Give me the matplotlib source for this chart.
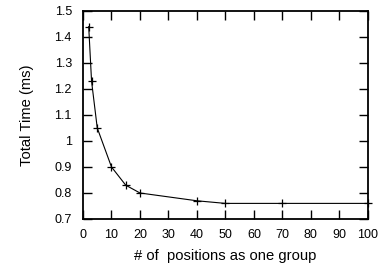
import matplotlib
matplotlib.use("Agg")
import matplotlib.pyplot as plt
from matplotlib.ticker import FuncFormatter

# group sizes and measured total time
group_size = [2, 3, 5, 10, 15, 20, 40, 50, 70, 100]
total_time = [1.44, 1.23, 1.05, 0.90, 0.83, 0.80, 0.77, 0.76, 0.76, 0.76]

plt.rcParams['font.family'] = ['Liberation Sans', 'DejaVu Sans']

fig = plt.figure(figsize=(3.85, 2.65), dpi=100)
ax = fig.add_axes([0.2156, 0.1736, 0.740, 0.785])

ax.plot(group_size, total_time, color='black', linewidth=0.8,
        marker='+', markersize=5.5, markeredgewidth=0.9, clip_on=False)

ax.set_xlim(0, 100)
ax.set_ylim(0.7, 1.5)
ax.set_xticks(range(0, 101, 10))
ax.set_yticks([0.7, 0.8, 0.9, 1.0, 1.1, 1.2, 1.3, 1.4, 1.5])
ax.yaxis.set_major_formatter(FuncFormatter(lambda v, p: f"{v:g}"))

ax.tick_params(direction='in', length=6.5, width=1, top=True, right=True,
               labelsize=9)
ax.tick_params(axis='x', pad=7)
ax.tick_params(axis='y', pad=8)
for s in ax.spines.values():
    s.set_linewidth(1.3)

ax.set_xlabel("# of  positions as one group", fontsize=10.6, labelpad=6)
ax.set_ylabel("Total Time (ms)", fontsize=10.6, labelpad=15)

fig.savefig("out.png", dpi=100)
